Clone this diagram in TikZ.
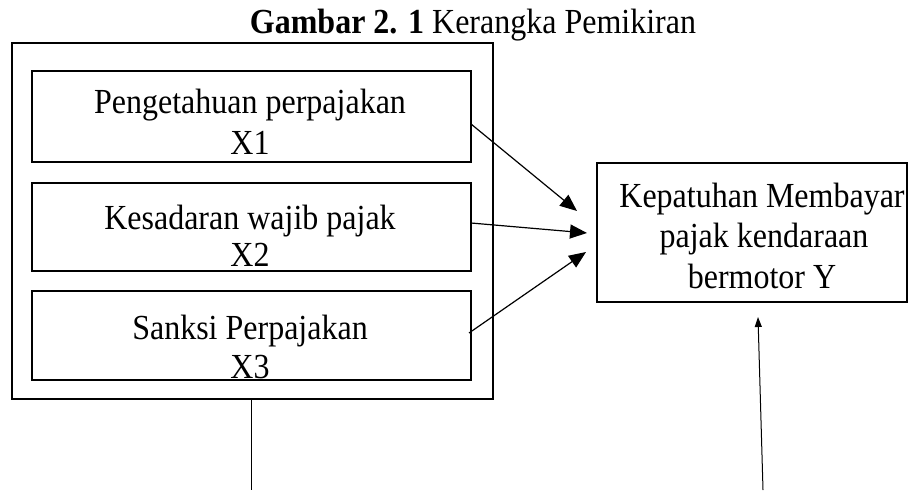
\documentclass[tikz,border=0pt]{standalone}
\usepackage{fontspec}
\setmainfont{Liberation Serif}
\usetikzlibrary{arrows.meta}
\newcommand{\vstretch}[1]{\scalebox{1}[1.1]{#1}}
\begin{document}
\begin{tikzpicture}[x=1pt,y=-1pt,
  box/.style={draw, line width=2.2pt, inner sep=0pt, outer sep=0pt},
  txt/.style={font=\fontsize{32}{41}\selectfont, inner sep=0pt, anchor=base},
  link/.style={line width=1.2pt, -{Triangle[length=17pt,width=14pt]}},
  uplink/.style={line width=1pt, -{Triangle[length=10pt,width=7pt]}},
  plain/.style={line width=1pt}]
\useasboundingbox (0,0) rectangle (917,490);
% title
\node[txt] (title) at (473,33) {\vstretch{\textbf{Gambar 2. 1} Kerangka Pemikiran}};
% boxes
\node[box, line width=2.5pt, minimum width=481pt, minimum height=356pt] (outer) at (252.5,221) {};
\node[box, minimum width=439pt, minimum height=91pt] (b1) at (251.5,116.5) {};
\node[box, minimum width=439pt, minimum height=88pt] (b2) at (251.5,227) {};
\node[box, minimum width=439pt, minimum height=89pt] (b3) at (251.5,335.5) {};
\node[box, minimum width=310pt, minimum height=139pt] (y) at (752,232.5) {};
% texts
\node[txt] (t1a) at (250,113) {\vstretch{Pengetahuan perpajakan}};
\node[txt] (t1b) at (250,154) {\vstretch{X1}};
\node[txt] (t2a) at (250,229) {\vstretch{Kesadaran wajib pajak}};
\node[txt] (t2b) at (250,266) {\vstretch{X2}};
\node[txt] (t3a) at (250,339) {\vstretch{Sanksi Perpajakan}};
\node[txt] (t3b) at (250,378) {\vstretch{X3}};
\node[txt] (tya) at (762,207) {\vstretch{Kepatuhan Membayar}};
\node[txt] (tyb) at (764,247) {\vstretch{pajak kendaraan}};
\node[txt] (tyc) at (762,288) {\vstretch{bermotor Y}};
% connector ends
\coordinate (a1s) at (471,124);
\coordinate (a1e) at (577,211);
\coordinate (a2s) at (471,223);
\coordinate (a2e) at (587,233);
\coordinate (a3s) at (469,333);
\coordinate (a3e) at (586,252);
\coordinate (a4s) at (763,490);
\coordinate (a4e) at (758,317);
\coordinate (l1s) at (251,399);
\coordinate (l1e) at (251,490);
% connectors
\draw[link] (a1s) -- (a1e);
\draw[link] (a2s) -- (a2e);
\draw[link] (a3s) -- (a3e);
\draw[uplink] (a4s) -- (a4e);
\draw[plain] (l1s) -- (l1e);
\end{tikzpicture}
\end{document}
